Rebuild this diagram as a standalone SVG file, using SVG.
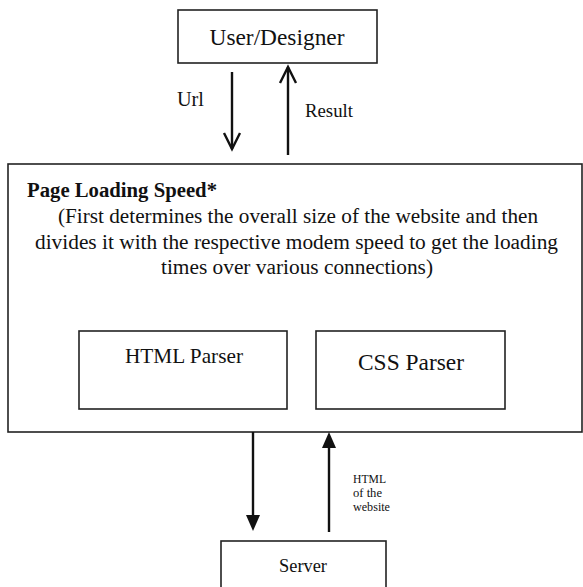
<svg xmlns="http://www.w3.org/2000/svg" width="583" height="587" viewBox="0 0 583 587">
<style>
.box{fill:#fff;stroke:#222;stroke-width:1.6}
text{font-family:'Liberation Serif','Times New Roman',Times,serif;fill:#111}
.conn{stroke:#111;stroke-width:2.4;fill:none}
.open{stroke:#111;stroke-width:2.4;fill:none;stroke-linejoin:miter}
.head{fill:#111;stroke:none}
</style>
<rect width="583" height="587" fill="#fff"/>
<g id="main">
<rect class="box" x="8" y="164" width="574" height="268"/>
<text x="27" y="197" font-size="20.5" font-weight="bold" textLength="190" lengthAdjust="spacingAndGlyphs">Page Loading Speed*</text>
<text x="298" y="223" font-size="20.5" text-anchor="middle" textLength="480" lengthAdjust="spacingAndGlyphs">(First determines the overall size of the website and then</text>
<text x="296.5" y="249" font-size="20.5" text-anchor="middle" textLength="523" lengthAdjust="spacingAndGlyphs">divides it with the respective modem speed to get the loading</text>
<text x="297" y="274" font-size="20.5" text-anchor="middle" textLength="272" lengthAdjust="spacingAndGlyphs">times over various connections)</text>
</g>
<g id="user">
<rect class="box" x="178" y="10" width="199" height="53"/>
<text x="277" y="45" font-size="23" text-anchor="middle" textLength="135" lengthAdjust="spacingAndGlyphs">User/Designer</text>
</g>
<g id="html-parser">
<rect class="box" x="79" y="331" width="208" height="78"/>
<text x="184" y="363" font-size="21" text-anchor="middle" textLength="118" lengthAdjust="spacingAndGlyphs">HTML Parser</text>
</g>
<g id="css-parser">
<rect class="box" x="316" y="331" width="189" height="78"/>
<text x="411" y="370" font-size="23" text-anchor="middle" textLength="106" lengthAdjust="spacingAndGlyphs">CSS Parser</text>
</g>
<g id="server">
<rect class="box" x="221" y="541" width="165" height="60"/>
<text x="303" y="572" font-size="19" text-anchor="middle" textLength="48" lengthAdjust="spacingAndGlyphs">Server</text>
</g>
<g id="connectors">
<line class="conn" x1="232" y1="72" x2="232" y2="149"/>
<polyline class="open" points="224,133 232,149 240,133"/>
<line class="conn" x1="288" y1="155" x2="288" y2="67"/>
<polyline class="open" points="280,83 288,67 296,83"/>
<text x="177" y="106" font-size="20" textLength="27" lengthAdjust="spacingAndGlyphs">Url</text>
<text x="305" y="117" font-size="19" textLength="48" lengthAdjust="spacingAndGlyphs">Result</text>
<line class="conn" x1="253" y1="432" x2="253" y2="516"/>
<polygon class="head" points="246,515 260,515 253,531"/>
<line class="conn" x1="329" y1="532" x2="329" y2="446"/>
<polygon class="head" points="322,448 336,448 329,432"/>
<text x="353" y="483" font-size="12.5" textLength="33" lengthAdjust="spacingAndGlyphs">HTML</text>
<text x="353" y="497" font-size="12.5" textLength="29" lengthAdjust="spacingAndGlyphs">of the</text>
<text x="353" y="511" font-size="12.5" textLength="37" lengthAdjust="spacingAndGlyphs">website</text>
</g>
</svg>
